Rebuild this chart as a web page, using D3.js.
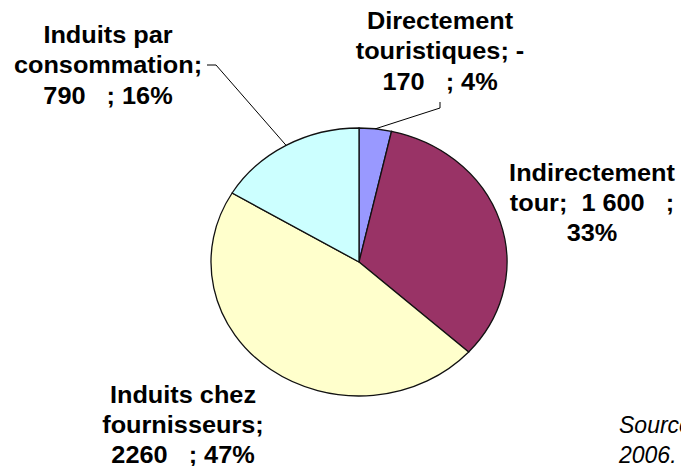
<!DOCTYPE html>
<html><head><meta charset="utf-8">
<script src="https://cdn.jsdelivr.net/npm/d3@7"></script>
<style>
html,body{margin:0;padding:0;background:#fff;overflow:hidden}
text{font-family:Arial,"Liberation Sans",sans-serif}
</style></head>
<body>
<svg id="chart" width="681" height="466"></svg>
<script>
const categories = ["Directement touristiques", "Indirectement tour", "Induits chez fournisseurs", "Induits par consommation"];
const values = [170, 1600, 2260, 790];
const valueLabels = ["170   ", "1 600   ", "2260   ", "790   "];
const colors = ["#9999FF", "#993366", "#FFFFCC", "#CCFFFF"];
const labelLines = [
  ["Directement", "touristiques; -", "170   ; 4%"],
  ["Indirectement", "tour;  1 600   ;", "33%"],
  ["Induits chez", "fournisseurs;", "2260   ; 47%"],
  ["Induits par", "consommation;", "790   ; 16%"]
];
const sourceLines = ["Source : INSEE,", "2006."];

const svg = d3.select("#chart");
const cx = 359, cy = 262, rx = 148, ry = 134;

const pie = d3.pie().sort(null).value(d => d)(values);
const arc = d3.arc().innerRadius(0).outerRadius(rx);

const g = svg.append("g").attr("transform", `translate(${cx},${cy}) scale(1,${ry/rx})`);
g.selectAll("path").data(pie).join("path")
  .attr("d", arc)
  .attr("fill", (d,i) => colors[i])
  .attr("stroke", "#111")
  .attr("stroke-width", 1.3)
  .attr("vector-effect", "non-scaling-stroke");

function edge(a){ return [cx + rx*Math.sin(a), cy - ry*Math.cos(a)]; }

const fs = 23, sx = 1.1;
const labelPos = [
  {x: 440, y: 29, lh: 30.5},
  {x: 592, y: 181, lh: 30},
  {x: 183, y: 403, lh: 30},
  {x: 108, y: 43, lh: 30.5}
];
labelLines.forEach((lines, i) => {
  const t = svg.append("g").attr("transform", `translate(${labelPos[i].x},${labelPos[i].y}) scale(${sx},1)`);
  lines.forEach((s, k) => {
    t.append("text").attr("x", 0).attr("y", k*labelPos[i].lh)
      .attr("text-anchor", "middle")
      .attr("font-size", fs).attr("font-weight", "bold")
      .attr("fill", "#000")
      .style("white-space", "pre")
      .text(s);
  });
});

const midA = d => (d.startAngle + d.endAngle)/2;
const p0 = edge(midA(pie[0]));
svg.append("path").attr("d", `M440,102 L440,108 L${p0[0]},${p0[1]}`)
  .attr("fill","none").attr("stroke","#000").attr("stroke-width",1);
const p3 = edge(midA(pie[3]));
svg.append("path").attr("d", `M207,65 L216,65 L${p3[0]},${p3[1]}`)
  .attr("fill","none").attr("stroke","#000").attr("stroke-width",1);

sourceLines.forEach((s, k) => {
  svg.append("text").attr("x", 619).attr("y", 433 + k*30)
    .attr("font-size", 23).attr("font-style", "italic").attr("fill", "#000")
    .text(s);
});
</script>
</body></html>
